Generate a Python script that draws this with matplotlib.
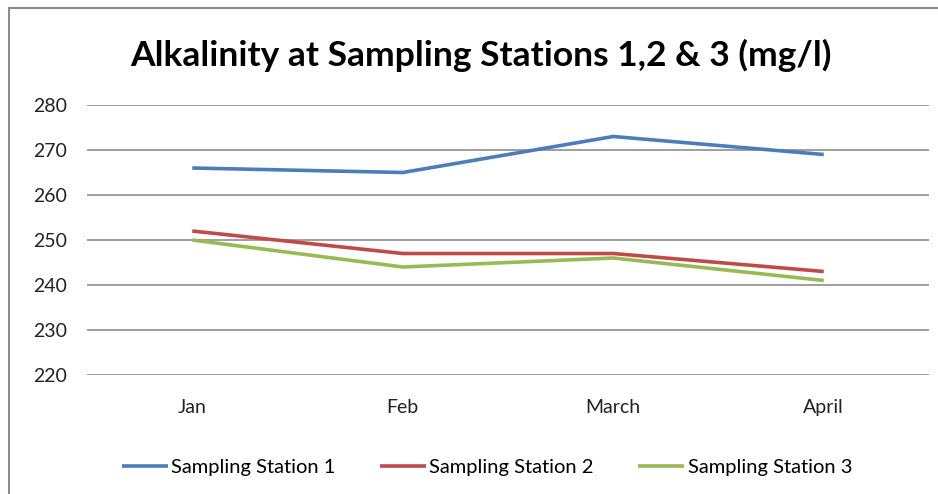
import matplotlib.pyplot as plt
from matplotlib.patches import Rectangle


# ============================================================
# DATA
# ============================================================

months = ["Jan", "Feb", "March", "April"]

station_1 = [266, 265, 273, 269]
station_2 = [252, 247, 247, 243]
station_3 = [250, 244, 246, 241]

series_names = [
    "Sampling Station 1",
    "Sampling Station 2",
    "Sampling Station 3",
]

y_ticks = [220, 230, 240, 250, 260, 270, 280]


# ============================================================
# FIGURE
# ============================================================

plt.rcParams["font.family"] = ["Lato", "DejaVu Sans"]

fig = plt.figure(figsize=(9.38, 4.94), dpi=100)

W, H = 938, 494

ax = fig.add_axes([
    87 / W,
    1 - 375 / H,
    (929 - 87) / W,
    (375 - 105) / H,
])

# chart frame
frame = Rectangle(
    (9 / W, -0.1),
    1.2,
    1 - 8 / H + 0.1,
    transform=fig.transFigure,
    fill=False,
    edgecolor="#8c8c8c",
    linewidth=1.5,
)
fig.patches.append(frame)

colors = ["#4a7ebb", "#be4b48", "#98b954"]

x = list(range(len(months)))

for values, name, color in zip(
    [station_1, station_2, station_3], series_names, colors
):
    ax.plot(
        x,
        values,
        color=color,
        linewidth=2.6,
        label=name,
        solid_capstyle="butt",
        zorder=3,
    )

ax.set_xlim(-0.5, len(months) - 0.5)
ax.set_ylim(220, 280)

ax.set_yticks(y_ticks)
ax.set_xticks(x)
ax.set_xticklabels(months)

ax.grid(axis="y", color="#969696", linewidth=1.3)
ax.set_axisbelow(True)

for side in ["top", "right", "left", "bottom"]:
    ax.spines[side].set_visible(False)

ax.tick_params(axis="both", length=0, labelsize=14, colors="#222222")
ax.tick_params(axis="y", pad=14.5)
ax.tick_params(axis="x", pad=17)

fig.text(
    481 / W,
    1 - 55 / H,
    "Alkalinity at Sampling Stations 1,2 & 3 (mg/l)",
    ha="center",
    va="center",
    fontsize=25.5,
    fontweight="bold",
)

fig.legend(
    loc="center",
    bbox_to_anchor=(487 / W, 1 - 467 / H),
    ncol=3,
    frameon=False,
    fontsize=14.5,
    handlelength=2.3,
    handletextpad=0.15,
    columnspacing=2.2,
)

fig.savefig("out.png", dpi=100)
